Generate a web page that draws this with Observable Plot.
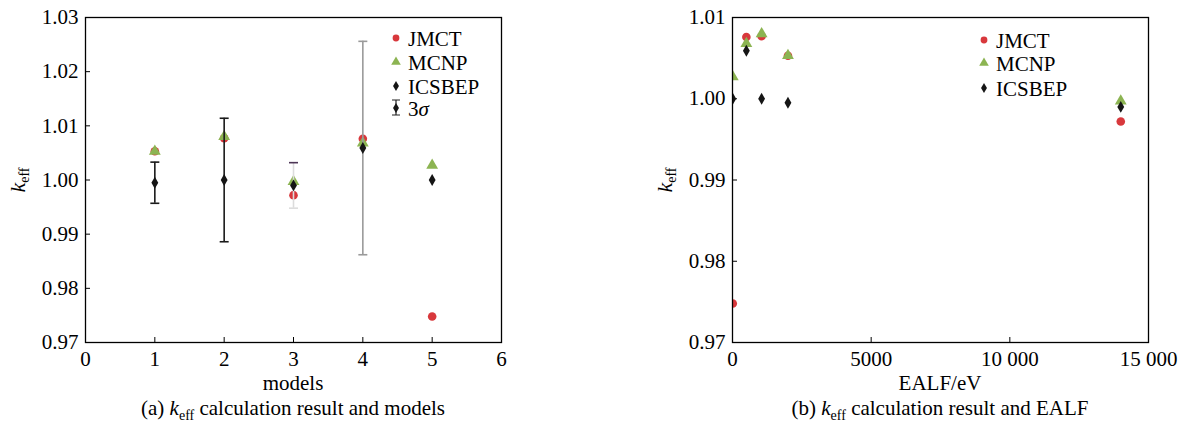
<!DOCTYPE html>
<html><head><meta charset="utf-8">
<script src="https://cdn.jsdelivr.net/npm/d3@7"></script>
<script src="https://cdn.jsdelivr.net/npm/@observablehq/plot@0.6"></script>
<style>
body{margin:0;background:#fff;}
#wrap{position:relative;width:1185px;height:421px;font-family:"Liberation Serif","Times New Roman",serif;color:#000;}
.panel{position:absolute;top:0;}
.cap{position:absolute;top:397px;font-size:21px;line-height:22px;white-space:nowrap;transform:translateX(-50%);}
.cap .sub{font-size:14px;position:relative;top:5px;}
</style></head><body>
<div id="wrap">
<div id="a" class="panel" style="left:0"></div>
<div id="b" class="panel" style="left:600px"></div>
<div class="cap" style="left:293px">(a) <i>k</i><span class="sub">eff</span> calculation result and models</div>
<div class="cap" style="left:940px">(b) <i>k</i><span class="sub">eff</span> calculation result and EALF</div>
</div>
<script>
// ---- data ----
const models = [1, 2, 3, 4, 5];
const ealf   = [2000, 1050, 14000, 500, 10];
const jmct   = [1.0053, 1.0077, 0.9972, 1.0076, 0.9748];
const mcnp   = [1.0053, 1.0080, 0.9997, 1.0068, 1.0027];
const icsbep = [0.9995, 1.0000, 0.9990, 1.0059, 1.0000];
const sigma3 = [0.0038, 0.0114, 0.0042, 0.0197, null];
const seriesNames = ["JMCT", "MCNP", "ICSBEP"];
const xTicksA = [0, 1, 2, 3, 4, 5, 6];
const yTicksA = [0.97, 0.98, 0.99, 1.00, 1.01, 1.02, 1.03];
const xTicksB = [0, 5000, 10000, 15000];
const yTicksB = [0.97, 0.98, 0.99, 1.00, 1.01];

// ---- styles ----
const RED = "#d8383c", GREEN = "#8cb452", BLACK = "#151515";
const errStroke = ["#1a1a1a", "#1a1a1a", "#dcdcdc", "#9a9a9a", "#eee"];
const errTopStroke = ["#1a1a1a", "#1a1a1a", "#4d3556", "#9a9a9a", "#eee"];
const FONT = "Liberation Serif";

const rows = models.map((m, i) => ({model: m, ealf: ealf[i], jmct: jmct[i], mcnp: mcnp[i], icsbep: icsbep[i], s: sigma3[i], i}));
const errRows = rows.filter(d => d.s != null);

const capSymbol = {draw(ctx) { ctx.moveTo(-4.5, 0); ctx.lineTo(4.5, 0); }};
const fmtB = d => d >= 10000 ? d3.format(",")(d).replace(",", " ") : String(d);

function basePlot(opts) {
  return Plot.plot({
    width: opts.width, height: 400,
    marginLeft: opts.marginLeft, marginRight: opts.marginRight, marginTop: 17, marginBottom: 58,
    style: {fontFamily: FONT, fontSize: "21px", color: "#000", background: "white", overflow: "visible"},
    x: {domain: opts.xDomain},
    y: {domain: opts.yDomain},
    marks: [
      Plot.axisX({ticks: opts.xTicks, tickFormat: opts.xFormat, tickSize: -5, tickPadding: 14, fontSize: 21, label: null, stroke: "#000"}),
      Plot.axisY({ticks: opts.yTicks, tickFormat: d3.format(".2f"), tickSize: -5, tickPadding: 12, fontSize: 21, label: null, stroke: "#000"}),
      ...opts.marks,
      Plot.frame({stroke: "#000", strokeWidth: 1.3})
    ]
  });
}

function decorate(svg, opts) {
  const s = d3.select(svg);
  // y label
  const yl = s.append("text").attr("transform", `translate(${opts.ylx},180) rotate(-90)`)
    .attr("text-anchor", "middle").attr("font-family", FONT).attr("fill", "#000");
  yl.append("tspan").attr("font-style", "italic").attr("font-size", 22).text("k");
  yl.append("tspan").attr("font-size", 14).attr("dy", 4).text("eff");
  // x label
  s.append("text").attr("x", opts.xlx).attr("y", 390).attr("text-anchor", "middle")
    .attr("font-family", FONT).attr("font-size", 21).attr("fill", "#000").text(opts.xLabel);
  // legend
  const g = s.append("g").attr("font-family", FONT).attr("font-size", 21).attr("fill", "#000").attr("text-anchor", "start");
  const syms = [[d3.symbolCircle, RED, 36], [d3.symbolTriangle, GREEN, 40], [d3.symbolDiamond, BLACK, 30]];
  opts.legendRows.forEach((y, k) => {
    if (k < 3) {
      g.append("path").attr("transform", `translate(${opts.lgx},${y})`)
        .attr("d", d3.symbol(syms[k][0], syms[k][2])()).attr("fill", syms[k][1]);
      g.append("text").attr("x", opts.lgx + 12).attr("y", y + 8).attr("text-anchor", "start").text(seriesNames[k]);
    } else {
      g.append("path").attr("d", `M${opts.lgx - 4},${y - 9}H${opts.lgx + 4}M${opts.lgx},${y - 9}V${y + 6}M${opts.lgx - 4},${y + 6}H${opts.lgx + 4}`)
        .attr("stroke", "#222").attr("stroke-width", 1.2).attr("fill", "none");
      g.append("path").attr("transform", `translate(${opts.lgx},${y - 1})`)
        .attr("d", d3.symbol(d3.symbolDiamond, 30)()).attr("fill", BLACK);
      const t = g.append("text").attr("x", opts.lgx + 12).attr("y", y + 7).attr("text-anchor", "start");
      t.append("tspan").text("3");
      t.append("tspan").attr("font-style", "italic").text("σ");
    }
  });
}

// ---- panel a ----
const plotA = basePlot({
  width: 600, marginLeft: 85, marginRight: 99,
  xDomain: [0, 6], yDomain: [0.97, 1.03], xTicks: xTicksA, yTicks: yTicksA, xFormat: d => String(d),
  marks: [
    Plot.dot(rows, {x: "model", y: "jmct", symbol: "circle", r: 4.3, fill: RED}),
    Plot.dot(rows, {x: "model", y: "mcnp", symbol: "triangle", r: 4.4, fill: GREEN}),
    Plot.ruleX(errRows, {x: "model", y1: d => d.icsbep - d.s, y2: d => d.icsbep + d.s, stroke: d => errStroke[d.i], strokeWidth: 1.6}),
    Plot.dot(errRows, {x: "model", y: d => d.icsbep + d.s, symbol: capSymbol, r: 3, stroke: d => errTopStroke[d.i], strokeWidth: 1.6}),
    Plot.dot(errRows, {x: "model", y: d => d.icsbep - d.s, symbol: capSymbol, r: 3, stroke: d => errStroke[d.i], strokeWidth: 1.6}),
    Plot.dot(rows, {x: "model", y: "icsbep", symbol: "diamond", r: 3.6, fill: BLACK})
  ]
});
document.getElementById("a").append(plotA);
decorate(plotA, {ylx: 25, xlx: 293, xLabel: "models", lgx: 396, legendRows: [38, 62, 86, 109]});

// ---- panel b ----
const plotB = basePlot({
  width: 585, marginLeft: 132, marginRight: 37,
  xDomain: [0, 15000], yDomain: [0.97, 1.01], xTicks: xTicksB, yTicks: yTicksB, xFormat: fmtB,
  marks: [
    Plot.dot(rows, {x: "ealf", y: "jmct", symbol: "circle", r: 4.3, fill: RED, clip: true}),
    Plot.dot(rows, {x: "ealf", y: "mcnp", symbol: "triangle", r: 4.4, fill: GREEN, clip: true}),
    Plot.dot(rows, {x: "ealf", y: "icsbep", symbol: "diamond", r: 3.6, fill: BLACK, clip: true})
  ]
});
document.getElementById("b").append(plotB);
decorate(plotB, {ylx: 72, xlx: 340, xLabel: "EALF/eV", lgx: 384, legendRows: [40, 63, 88]});
</script>
</body></html>
